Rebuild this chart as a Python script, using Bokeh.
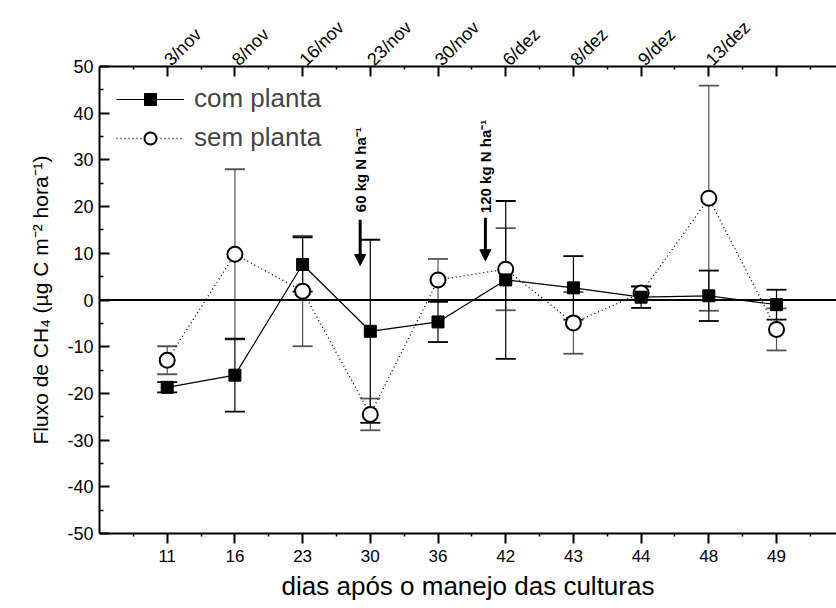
import math
from bokeh.plotting import figure
from bokeh.models import (Range1d, LinearAxis, FixedTicker, Legend, LegendItem,
                          Arrow, NormalHead, Whisker, ColumnDataSource, Span)
from bokeh.core.properties import value
from bokeh.embed import file_html
from bokeh.resources import INLINE

# ---- data ----
days = ["11", "16", "23", "30", "36", "42", "43", "44", "48", "49"]
dates = ["3/nov", "8/nov", "16/nov", "23/nov", "30/nov", "6/dez", "8/dez", "9/dez", "13/dez", ""]
com_planta = [-18.7, -16.1, 7.6, -6.7, -4.7, 4.3, 2.6, 0.6, 0.9, -1.0]
com_err = [1.1, 7.8, 5.8, 19.6, 4.3, 16.9, 6.8, 2.3, 5.4, 3.2]
sem_planta = [-12.9, 9.8, 1.9, -24.5, 4.3, 6.6, -4.9, 1.5, 21.8, -6.3]
sem_err = [3.0, 18.2, 11.8, 3.4, 4.5, 8.8, 6.6, 1.4, 24.1, 4.5]
y_ticks = list(range(-50, 51, 10))
notes = ["60 kg N ha\u207b\u00b9", "120 kg N ha\u207b\u00b9"]
note_x = [3.85, 5.70]
note_text_y = [18.8, 18.6]
arrow_top = [17.2, 17.6]
arrow_bot = [7.4, 8.4]

idx = list(range(1, len(days) + 1))
FONT = "Liberation Sans"

p = figure(width=836, height=608, output_backend="svg", toolbar_location=None,
           x_range=Range1d(0, 10.886), y_range=Range1d(-50, 50),
           x_axis_location=None, y_axis_location=None,
           min_border_left=99, min_border_right=0, min_border_top=66, min_border_bottom=75)
p.grid.visible = False
p.outline_line_color = None
p.background_fill_color = "white"
p.border_fill_color = "white"

# axes
bottom = LinearAxis(ticker=FixedTicker(ticks=idx, minor_ticks=[i + 0.5 for i in range(0, 11)]))
bottom.major_label_overrides = {i: d for i, d in zip(idx, days)}
bottom.axis_label = "dias após o manejo das culturas"
left = LinearAxis(ticker=FixedTicker(ticks=y_ticks, minor_ticks=list(range(-45, 50, 10))))
left.major_label_overrides = {t: str(t) for t in y_ticks}
left.axis_label = "Fluxo de CH\u2084 (\u00b5g C m\u207b\u00b2 hora\u207b\u00b9)"
top = LinearAxis(ticker=FixedTicker(ticks=idx, minor_ticks=[i + 0.5 for i in range(0, 11)]))
top.major_label_overrides = {i: d for i, d in zip(idx, dates)}
top.major_label_orientation = math.pi / 4

for ax in (bottom, left, top):
    ax.axis_line_width = 2
    ax.major_tick_line_width = 2
    ax.minor_tick_line_width = 1.5
    ax.major_label_text_font = FONT
    ax.major_label_text_color = "black"
    ax.axis_label_text_font = FONT
    ax.axis_label_text_font_style = "normal"
    ax.axis_label_text_color = "black"

bottom.major_tick_in = 0
bottom.major_tick_out = 10
bottom.minor_tick_in = 0
bottom.minor_tick_out = 3
bottom.major_label_text_font_size = "17px"
bottom.axis_label_text_font_size = "26px"
bottom.major_label_standoff = 6
bottom.axis_label_standoff = 6

left.major_tick_in = 10
left.major_tick_out = 0
left.minor_tick_in = 4
left.minor_tick_out = 0
left.major_label_text_font_size = "18px"
left.axis_label_text_font_size = "21px"
left.major_label_standoff = 6
left.axis_label_standoff = 12

top.major_tick_in = 10
top.major_tick_out = 0
top.minor_tick_in = 3
top.minor_tick_out = 0
top.major_label_text_font_size = "18px"
top.major_label_standoff = 4

p.add_layout(bottom, "below")
p.add_layout(left, "left")
p.add_layout(top, "above")

# zero line
p.add_layout(Span(location=0, dimension="width", line_color="black", line_width=2))

src = ColumnDataSource(dict(
    x=idx, com=com_planta, sem=sem_planta,
    com_lo=[v - e for v, e in zip(com_planta, com_err)],
    com_hi=[v + e for v, e in zip(com_planta, com_err)],
    sem_lo=[v - e for v, e in zip(sem_planta, sem_err)],
    sem_hi=[v + e for v, e in zip(sem_planta, sem_err)],
))

# error bars
for lo, hi, col in (("sem_lo", "sem_hi", "#555555"), ("com_lo", "com_hi", "black")):
    w = Whisker(source=src, base="x", lower=lo, upper=hi, line_color=col, line_width=1.2)
    w.upper_head.size = 20
    w.lower_head.size = 20
    w.upper_head.line_color = col
    w.lower_head.line_color = col
    w.upper_head.line_width = 1.8
    w.lower_head.line_width = 1.8
    p.add_layout(w)

l_sem = p.line("x", "sem", source=src, line_color="black", line_width=1.3, line_dash="1 3")
l_com = p.line("x", "com", source=src, line_color="black", line_width=1.2)
m_sem = p.scatter("x", "sem", source=src, marker="circle", size=15, fill_color="white",
                  line_color="black", line_width=2)
m_com = p.scatter("x", "com", source=src, marker="square", size=12, fill_color="black",
                  line_color="black")

# annotations
for nx, ny, txt in zip(note_x, note_text_y, notes):
    p.text(x=[nx], y=[ny], text=[txt], angle=math.pi / 2, text_align="left",
           text_baseline="middle", text_font=value(FONT), text_font_style="bold",
           text_font_size="15px", text_color="black")
for nx, a0, a1 in zip(note_x, arrow_top, arrow_bot):
    p.add_layout(Arrow(x_start=nx, y_start=a0, x_end=nx, y_end=a1, line_width=3,
                       line_color="black",
                       end=NormalHead(size=11, fill_color="black", line_color="black")))

legend = Legend(items=[LegendItem(label="com planta", renderers=[l_com, m_com]),
                       LegendItem(label="sem planta", renderers=[l_sem, m_sem])],
                location="top_left", glyph_width=68, glyph_height=30, spacing=8,
                label_standoff=10, padding=0, margin=17,
                border_line_color=None, background_fill_alpha=0,
                label_text_font=FONT, label_text_font_size="26px")
p.add_layout(legend)

open("out.html", "w").write(file_html(p, INLINE))
